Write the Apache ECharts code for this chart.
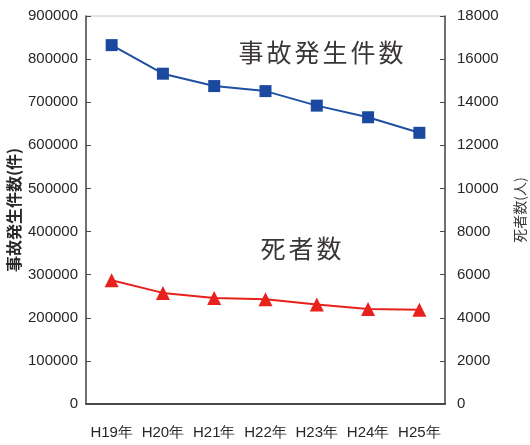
<!DOCTYPE html>
<html>
<head>
<meta charset="utf-8">
<script src="https://cdn.jsdelivr.net/npm/echarts@6/dist/echarts.min.js"></script>
<style>
  html, body { margin: 0; padding: 0; background: #fff; }
  #chart { width: 530px; height: 445px; }
</style>
</head>
<body>
<div id="chart"></div>
<script>
// 年別 交通事故発生件数と死者数
const years = ['H19年', 'H20年', 'H21年', 'H22年', 'H23年', 'H24年', 'H25年'];
const accidents = [832454, 766147, 737474, 725773, 692084, 665138, 629021];
const deaths = [5744, 5155, 4914, 4863, 4612, 4411, 4373];

const accidentTicks = { min: 0, max: 900000, interval: 100000 };
const deathTicks = { min: 0, max: 18000, interval: 2000 };

const axisColor = '#4d4848';
const textColor = '#2b2626';
const labelFont = 'Liberation Sans, Arial, sans-serif';
const cjkFont = '"Noto Sans CJK JP", sans-serif';

// spread each character over a fixed width, like the in-plot captions
function spaced(str) {
  return str.split('').map(ch => '{c|' + ch + '}').join('');
}
const plainNumber = v => String(v);

const captionStyle = {
  rich: {
    c: { width: 28, align: 'center', fontSize: 25, fontWeight: 'normal', fontFamily: cjkFont, color: '#3a3636' }
  }
};

const chart = echarts.init(document.getElementById('chart'), null, { renderer: 'canvas' });

chart.setOption({
  animation: false,
  backgroundColor: '#fff',
  grid: {
    left: 86, right: 85, top: 16, bottom: 41,
    containLabel: false,
    outerBoundsMode: 'none',
    show: true, borderColor: '#c4c4c4', borderWidth: 1
  },
  title: [
    { text: spaced('事故発生件数'), left: 232, top: 35, textStyle: captionStyle },
    { text: spaced('死者数'), left: 254, top: 231, textStyle: captionStyle }
  ],
  xAxis: {
    type: 'category',
    data: years,
    boundaryGap: true,
    axisLine: { lineStyle: { color: axisColor, width: 2 } },
    axisTick: { inside: true, length: 5, lineStyle: { color: axisColor } },
    axisLabel: { interval: 0, color: textColor, fontSize: 15, fontFamily: labelFont, margin: 21 }
  },
  yAxis: [
    {
      type: 'value',
      min: accidentTicks.min, max: accidentTicks.max, interval: accidentTicks.interval,
      name: '事故発生件数(件)',
      nameLocation: 'middle',
      nameRotate: 90,
      nameGap: 64,
      nameMoveOverlap: false,
      nameTextStyle: { color: textColor, fontSize: 16, fontWeight: 'bold', fontFamily: cjkFont },
      axisLine: { show: true, lineStyle: { color: axisColor, width: 1.5 } },
      axisTick: { show: true, inside: true, length: 5, lineStyle: { color: axisColor } },
      splitLine: { show: false },
      axisLabel: { formatter: plainNumber, color: textColor, fontSize: 15, fontFamily: labelFont, margin: 8 }
    },
    {
      type: 'value',
      position: 'right',
      min: deathTicks.min, max: deathTicks.max, interval: deathTicks.interval,
      name: '死者数(人)',
      nameLocation: 'middle',
      nameRotate: 90,
      nameGap: 68,
      nameMoveOverlap: false,
      nameTextStyle: { color: '#3a3636', fontSize: 14, fontFamily: cjkFont },
      axisLine: { show: true, lineStyle: { color: axisColor, width: 1.5 } },
      axisTick: { show: true, inside: true, length: 5, lineStyle: { color: axisColor } },
      splitLine: { show: false },
      axisLabel: { formatter: plainNumber, color: textColor, fontSize: 15, fontFamily: labelFont, margin: 12 }
    }
  ],
  series: [
    {
      name: '事故発生件数',
      type: 'line',
      yAxisIndex: 0,
      data: accidents,
      symbol: 'rect',
      symbolSize: 12,
      lineStyle: { color: '#1f4fa3', width: 2 },
      itemStyle: { color: '#1c49a0' }
    },
    {
      name: '死者数',
      type: 'line',
      yAxisIndex: 1,
      data: deaths,
      symbol: 'triangle',
      symbolSize: 14,
      lineStyle: { color: '#e8211d', width: 2 },
      itemStyle: { color: '#e8211d' }
    }
  ]
});
</script>
</body>
</html>
